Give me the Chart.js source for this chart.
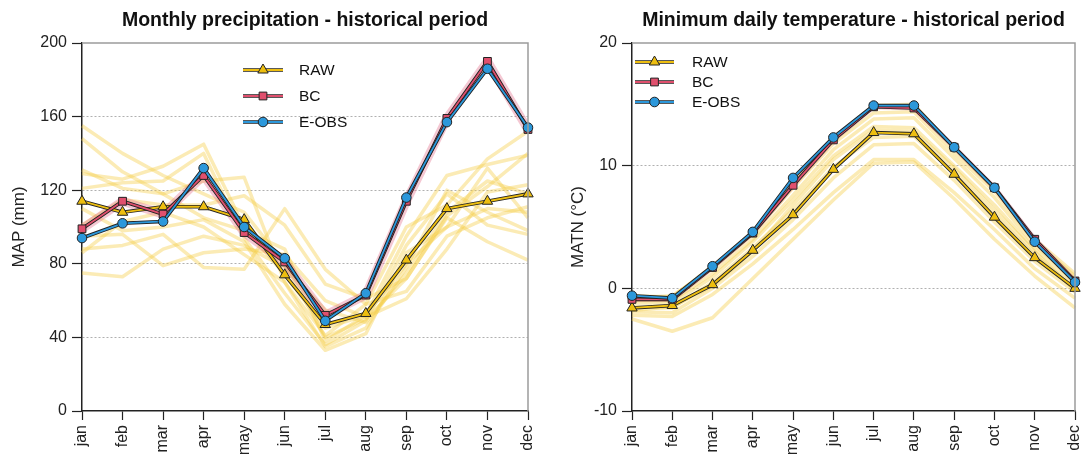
<!DOCTYPE html>
<html>
<head>
<meta charset="utf-8">
<script src="https://cdn.jsdelivr.net/npm/chart.js@4.4.1/dist/chart.umd.min.js"></script>
<style>
    html, body { margin: 0; padding: 0; background: #fff; overflow: hidden; }
    #wrap { position: relative; width: 1082px; height: 454px; }
    canvas { position: absolute; top: 0; }
    #precipChart { left: 0; }
    #tempChart { left: 545px; }
</style>
</head>
<body>
<div id="wrap">
    <canvas id="precipChart" width="545" height="454"></canvas>
    <canvas id="tempChart" width="537" height="454"></canvas>
</div>
<script>
// Дані
const months = ["jan", "feb", "mar", "apr", "may", "jun", "jul", "aug", "sep", "oct", "nov", "dec"];

// опади (mm)
const precipTicks = [0, 40, 80, 120, 160, 200];
const precipRaw = [114, 108, 111, 111, 104, 74, 47, 53, 82, 110, 114, 118];
const precipBc  = [99, 114, 107, 128, 97, 81, 52, 63, 114, 159, 190, 153];
const precipObs = [94, 102, 103, 132, 100, 83, 49, 64, 116, 157, 186, 154];
const precipMembers = [
    [155, 140, 128, 118, 108, 80, 40, 50, 72, 106, 122, 140],
    [148, 130, 118, 105, 98, 88, 38, 52, 95, 128, 134, 139],
    [129, 126, 133, 145, 100, 74, 45, 52, 80, 100, 110, 108],
    [121, 124, 125, 140, 94, 64, 36, 49, 90, 118, 101, 96],
    [131, 121, 118, 125, 127, 70, 41, 58, 100, 112, 137, 152],
    [101, 115, 112, 112, 117, 101, 69, 61, 72, 105, 92, 82],
    [88, 90, 96, 78, 77, 110, 77, 58, 65, 95, 105, 111],
    [75, 73, 88, 95, 90, 78, 55, 48, 75, 108, 125, 118],
    [95, 96, 79, 86, 88, 85, 60, 51, 61, 88, 119, 123],
    [110, 98, 100, 104, 92, 58, 33, 42, 86, 100, 132, 105],
    [86, 103, 108, 100, 85, 70, 35, 45, 78, 120, 108, 98]
];

// мінімальна температура (°C)
const tempTicks = [-10, 0, 10, 20];
const tempRaw = [-1.6, -1.4, 0.3, 3.1, 6.0, 9.7, 12.7, 12.6, 9.3, 5.8, 2.5, 0.0];
const tempBc  = [-0.9, -0.9, 1.7, 4.5, 8.4, 12.1, 14.8, 14.7, 11.5, 8.2, 4.0, 0.6];
const tempObs = [-0.6, -0.8, 1.8, 4.6, 9.0, 12.3, 14.9, 14.9, 11.5, 8.2, 3.8, 0.5];
const tempMembers = [
    [-2.5, -3.5, -2.4, 0.8, 4.0, 7.2, 10.2, 10.3, 7.3, 4.0, 1.0, -1.6],
    [-2.2, -2.3, -0.5, 2.0, 4.8, 7.8, 10.5, 10.5, 7.8, 4.8, 1.6, -0.8],
    [-1.9, -2.0, 0.0, 2.6, 5.6, 9.0, 11.7, 11.8, 8.8, 5.4, 2.2, -0.3],
    [-1.5, -1.6, 0.5, 3.3, 6.4, 9.9, 12.3, 12.4, 9.4, 6.0, 2.7, 0.1],
    [-1.2, -1.2, 0.9, 3.8, 7.2, 10.8, 13.2, 13.1, 10.0, 6.8, 3.2, 0.4],
    [-1.0, -1.0, 1.2, 4.0, 7.6, 11.3, 13.8, 13.9, 10.6, 7.4, 3.5, 0.8],
    [-0.8, -0.6, 1.6, 4.4, 8.2, 11.8, 14.3, 14.4, 11.0, 7.9, 3.8, 1.0],
    [-0.6, -0.7, 1.8, 4.6, 8.8, 12.2, 14.9, 15.0, 11.4, 8.1, 4.0, 1.2],
    [-1.8, -1.5, 0.2, 3.0, 6.8, 10.5, 12.9, 12.8, 9.8, 6.4, 3.0, -0.2]
];

// Стилі
const FONT = "'Liberation Sans', Arial, sans-serif";
const INK = "#222";
const COLORS = {
    raw: "#EDBE10",
    bc: "#E0506E",
    obs: "#2C98DB",
    member: "rgba(246, 204, 70, 0.40)",
    band: "rgba(226, 110, 140, 0.38)"
};

// основна серія: кольорова лінія з темним контуром
function mainSeries(key, data, color, pointStyle, radius, order) {
    return [
        {
            key: key, data: data,
            borderColor: color, borderWidth: 1.8,
            pointStyle: pointStyle, pointRadius: radius,
            pointBackgroundColor: color, pointBorderColor: INK, pointBorderWidth: 1,
            order: order
        },
        {
            key: key + "-edge", data: data,
            borderColor: INK, borderWidth: 3.6,
            pointRadius: 0, order: order + 0.5
        }
    ];
}

function buildDatasets(members, raw, bc, obs, bandWidth) {
    const list = [];
    list.push(...mainSeries("E-OBS", obs, COLORS.obs, "circle", 4.8, 1));
    list.push(...mainSeries("BC", bc, COLORS.bc, "rect", 5.5, 3));
    list.push(...mainSeries("RAW", raw, COLORS.raw, "triangle", 6, 5));

    list.push({
        key: "band", data: bc,
        borderColor: COLORS.band, borderWidth: bandWidth,
        borderJoinStyle: "round", pointRadius: 0, order: 20
    });

    members.forEach(m => {
        list.push({
            key: "member", data: m,
            borderColor: COLORS.member, borderWidth: 3.5,
            borderJoinStyle: "round", pointRadius: 0, order: 30
        });
    });
    return list;
}

// Легенда: лінія + маркер + текст
const lineLegend = {
    id: "lineLegend",
    afterDraw(chart, args, opts) {
        const ctx = chart.ctx;
        opts.items.forEach((name, i) => {
            const ds = chart.data.datasets.find(d => d.key === name);
            const y = opts.y + i * opts.gap;
            const x1 = opts.x, x2 = opts.x + opts.len, xm = (x1 + x2) / 2;

            ctx.save();
            ctx.lineCap = "butt";
            ctx.strokeStyle = INK;
            ctx.lineWidth = 3.6;
            ctx.beginPath(); ctx.moveTo(x1, y); ctx.lineTo(x2, y); ctx.stroke();
            ctx.strokeStyle = ds.borderColor;
            ctx.lineWidth = 1.8;
            ctx.beginPath(); ctx.moveTo(x1, y); ctx.lineTo(x2, y); ctx.stroke();

            ctx.fillStyle = ds.pointBackgroundColor;
            ctx.strokeStyle = ds.pointBorderColor;
            ctx.lineWidth = 1;
            Chart.helpers.drawPoint(ctx, { pointStyle: ds.pointStyle, radius: ds.pointRadius, rotation: 0, borderWidth: 1 }, xm, y);

            ctx.fillStyle = "#111";
            ctx.font = "15.5px " + FONT;
            ctx.textBaseline = "middle";
            ctx.fillText(name, opts.textX, y + 1);
            ctx.restore();
        });
    }
};

// сіра рамка зверху і справа
const frame = {
    id: "frame",
    afterDraw(chart) {
        const { ctx, chartArea: a } = chart;
        ctx.save();
        ctx.strokeStyle = "#9c9c9c";
        ctx.lineWidth = 1.5;
        ctx.beginPath();
        ctx.moveTo(a.left, a.top);
        ctx.lineTo(a.right, a.top);
        ctx.lineTo(a.right, a.bottom);
        ctx.stroke();
        ctx.restore();
    }
};

function makeChart(id, cfg) {
    const yMin = cfg.ticks[0];
    const yMax = cfg.ticks[cfg.ticks.length - 1];

    return new Chart(document.getElementById(id), {
        type: "line",
        data: {
            labels: months,
            datasets: buildDatasets(cfg.members, cfg.raw, cfg.bc, cfg.obs, cfg.bandWidth)
        },
        options: {
            responsive: false,
            animation: false,
            events: [],
            elements: { line: { tension: 0 } },
            layout: { padding: { left: 0, right: cfg.padRight, top: 0, bottom: 0 } },
            plugins: {
                legend: { display: false },
                tooltip: { enabled: false },
                title: {
                    display: true, text: cfg.title, fullSize: false,
                    color: "#111",
                    font: { family: FONT, size: 19.5, weight: "bold", lineHeight: 1.2 },
                    padding: { top: 8.5, bottom: 11.1 }
                },
                lineLegend: cfg.legend
            },
            scales: {
                x: {
                    type: "category", offset: false,
                    grid: { offset: false, drawOnChartArea: false, tickLength: 9, tickColor: INK, tickWidth: 1.2 },
                    border: { color: INK, width: 1.5 },
                    ticks: {
                        color: INK, font: { family: FONT, size: 16 },
                        minRotation: 90, maxRotation: 90, autoSkip: false, padding: 5
                    },
                    afterFit: s => { s.height = 43; s.paddingLeft = 0; s.paddingRight = 0; }
                },
                y: {
                    min: yMin, max: yMax,
                    afterBuildTicks: s => { s.ticks = cfg.ticks.map(v => ({ value: v })); },
                    grid: {
                        color: c => (c.tick && (c.tick.value === yMin || c.tick.value === yMax)) ? "rgba(0,0,0,0)" : "#b0b0b0",
                        lineWidth: 1, tickColor: INK, tickLength: 10, tickWidth: 1.2
                    },
                    border: { color: INK, width: 1.5, dash: [2, 2] },
                    ticks: { color: INK, font: { family: FONT, size: 16 }, padding: 5 },
                    title: {
                        display: true, text: cfg.yTitle, color: INK,
                        font: { family: FONT, size: 17 },
                        padding: { top: cfg.titlePad, bottom: 0 }
                    },
                    afterFit: s => { s.width = cfg.yWidth; }
                }
            }
        },
        plugins: [lineLegend, frame]
    });
}

makeChart("precipChart", {
    title: "Monthly precipitation - historical period",
    yTitle: "MAP (mm)",
    ticks: precipTicks,
    raw: precipRaw, bc: precipBc, obs: precipObs, members: precipMembers,
    bandWidth: 9,
    yWidth: 82, padRight: 17, titlePad: 9,
    legend: { items: ["RAW", "BC", "E-OBS"], x: 243, len: 40, y: 70, gap: 26, textX: 299 }
});

makeChart("tempChart", {
    title: "Minimum daily temperature - historical period",
    yTitle: "MATN (°C)",
    ticks: tempTicks,
    raw: tempRaw, bc: tempBc, obs: tempObs, members: tempMembers,
    bandWidth: 5,
    yWidth: 87, padRight: 5, titlePad: 23,
    legend: { items: ["RAW", "BC", "E-OBS"], x: 90, len: 39, y: 62, gap: 20, textX: 147 }
});
</script>
</body>
</html>
